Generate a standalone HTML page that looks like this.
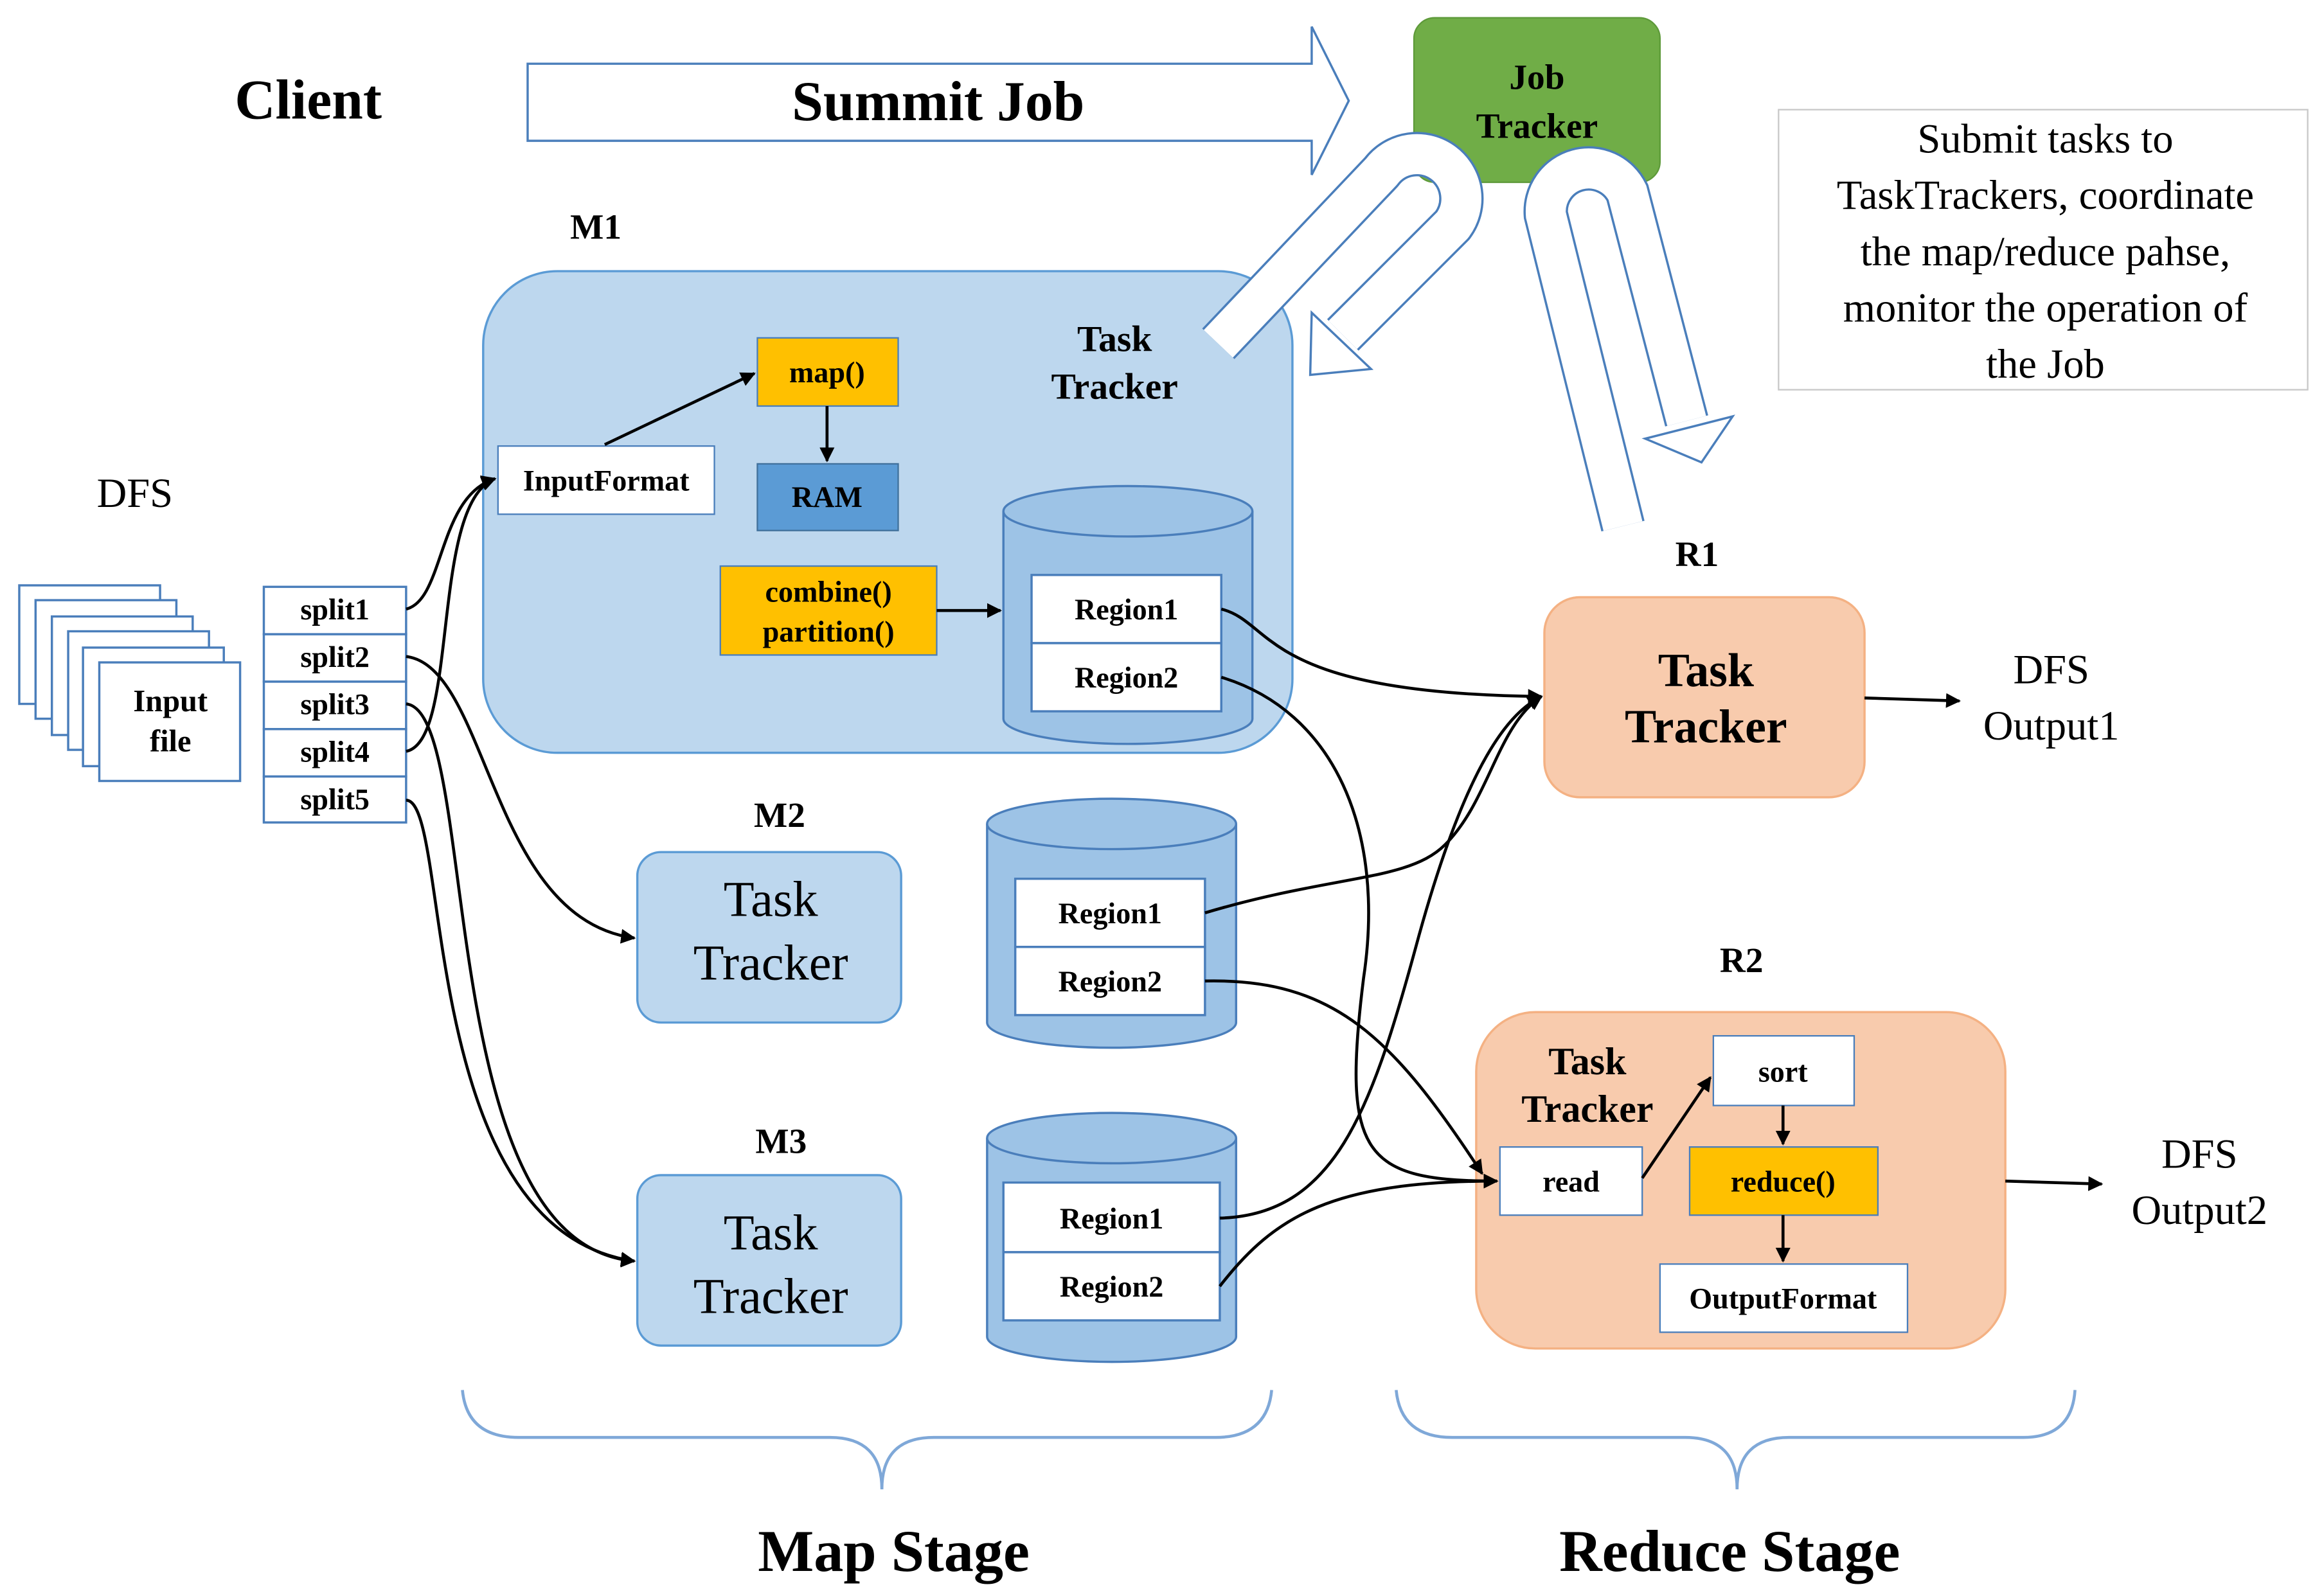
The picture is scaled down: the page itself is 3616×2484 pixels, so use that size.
<!DOCTYPE html>
<html><head><meta charset="utf-8"><style>
html,body{margin:0;padding:0;background:#fff}
svg{display:block}
text{font-family:"Liberation Serif",serif;fill:#000}
.b{font-weight:bold}
</style></head><body>
<svg width="3616" height="2484" viewBox="0 0 1568 1077" preserveAspectRatio="none" xmlns="http://www.w3.org/2000/svg">
<defs>
<marker id="ah" markerWidth="10" markerHeight="10" refX="9" refY="5" orient="auto" markerUnits="userSpaceOnUse">
<path d="M0,0 L10,5 L0,10 z" fill="#000"/></marker>
</defs>

<!-- Client & Summit Job -->
<text x="208" y="80" class="b" font-size="38" text-anchor="middle">Client</text>
<path d="M356,43 L885,43 L885,18 L910,68 L885,118 L885,95 L356,95 Z" fill="#fff" stroke="#4a7ebb" stroke-width="1.5"/>
<text x="633" y="81" class="b" font-size="38" text-anchor="middle">Summit Job</text>

<!-- Job Tracker -->
<rect x="954" y="12" width="166" height="111" rx="14" fill="#70ad47" stroke="#5e9a3a"/>
<text x="1037" y="60" class="b" font-size="24" text-anchor="middle">Job</text>
<text x="1037" y="93" class="b" font-size="24" text-anchor="middle">Tracker</text>

<!-- description -->
<rect x="1200" y="74" width="357" height="189" fill="#fff" stroke="#c8c8c8"/>
<g font-size="28" text-anchor="middle">
<text x="1380" y="103">Submit tasks to</text>
<text x="1380" y="141">TaskTrackers, coordinate</text>
<text x="1380" y="179">the map/reduce pahse,</text>
<text x="1380" y="217">monitor the operation of</text>
<text x="1380" y="255">the Job</text>
</g>

<!-- M1 -->
<text x="402" y="161" class="b" font-size="24" text-anchor="middle">M1</text>
<rect x="326" y="183" width="546" height="325" rx="50" fill="#bdd7ee" stroke="#5b9bd5" stroke-width="1.5"/>

<!-- U arrows -->
<path d="M822,232 L932,116 A30 30 0 0 1 980,152 L906,226" fill="none" stroke="#4a7ebb" stroke-width="30" stroke-linejoin="round"/>
<path d="M822,232 L932,116 A30 30 0 0 1 980,152 L906,226" fill="none" stroke="#fff" stroke-width="27" stroke-linejoin="round"/>
<polygon points="885,211 925,249 884,253" fill="#fff" stroke="#4a7ebb" stroke-width="1.5"/>
<path d="M1095,355 L1043,145 A29 29 0 0 1 1098,130 L1138,284" fill="none" stroke="#4a7ebb" stroke-width="30"/>
<path d="M1095,355 L1043,145 A29 29 0 0 1 1098,130 L1138,284" fill="none" stroke="#fff" stroke-width="27"/>
<polygon points="1110,296 1169,281 1148,312" fill="#fff" stroke="#4a7ebb" stroke-width="1.5"/>

<text x="752" y="237" class="b" font-size="25" text-anchor="middle">Task</text>
<text x="752" y="269" class="b" font-size="25" text-anchor="middle">Tracker</text>
<rect x="511" y="228" width="95" height="46" fill="#ffc000" stroke="#4a7ebb"/>
<text x="558" y="258" class="b" font-size="20" text-anchor="middle">map()</text>
<rect x="511" y="313" width="95" height="45" fill="#5b9bd5" stroke="#41719c"/>
<text x="558" y="342" class="b" font-size="20" text-anchor="middle">RAM</text>
<rect x="336" y="301" width="146" height="46" fill="#fff" stroke="#4a7ebb"/>
<text x="409" y="331" class="b" font-size="20" text-anchor="middle">InputFormat</text>
<rect x="486" y="382" width="146" height="60" fill="#ffc000" stroke="#4a7ebb"/>
<text x="559" y="406" class="b" font-size="20" text-anchor="middle">combine()</text>
<text x="559" y="433" class="b" font-size="20" text-anchor="middle">partition()</text>
<line x1="408" y1="300" x2="509" y2="252" stroke="#000" stroke-width="2" marker-end="url(#ah)"/>
<line x1="558" y1="274" x2="558" y2="311" stroke="#000" stroke-width="2" marker-end="url(#ah)"/>
<line x1="632" y1="412" x2="675" y2="412" stroke="#000" stroke-width="2" marker-end="url(#ah)"/>

<!-- cylinders -->
<g stroke="#4a7ebb" stroke-width="1.5" fill="#9dc3e6">
<path d="M677,345 L677,485 A84 17 0 0 0 845,485 L845,345"/>
<ellipse cx="761" cy="345" rx="84" ry="17"/>
<path d="M666,556 L666,690 A84 17 0 0 0 834,690 L834,556"/>
<ellipse cx="750" cy="556" rx="84" ry="17"/>
<path d="M666,768 L666,902 A84 17 0 0 0 834,902 L834,768"/>
<ellipse cx="750" cy="768" rx="84" ry="17"/>
</g>
<g fill="#fff" stroke="#4a7ebb" stroke-width="1.5">
<rect x="696" y="388" width="128" height="46"/><rect x="696" y="434" width="128" height="46"/>
<rect x="685" y="593" width="128" height="46"/><rect x="685" y="639" width="128" height="46"/>
<rect x="677" y="798" width="146" height="47"/><rect x="677" y="845" width="146" height="46"/>
</g>
<g class="b" font-size="20" text-anchor="middle">
<text x="760" y="418">Region1</text><text x="760" y="464">Region2</text>
<text x="749" y="623">Region1</text><text x="749" y="669">Region2</text>
<text x="750" y="829">Region1</text><text x="750" y="875">Region2</text>
</g>

<!-- DFS input -->
<text x="91" y="342" font-size="28" text-anchor="middle">DFS</text>
<g fill="#fff" stroke="#4a7ebb" stroke-width="1.5">
<rect x="13" y="395" width="95" height="80"/>
<rect x="24" y="405" width="95" height="80"/>
<rect x="35" y="416" width="95" height="80"/>
<rect x="46" y="426" width="95" height="80"/>
<rect x="56" y="437" width="95" height="80"/>
<rect x="67" y="447" width="95" height="80"/>
</g>
<text x="115" y="480" class="b" font-size="21" text-anchor="middle">Input</text>
<text x="115" y="507" class="b" font-size="21" text-anchor="middle">file</text>
<g fill="#fff" stroke="#4a7ebb" stroke-width="1.5">
<rect x="178" y="396" width="96" height="32"/><rect x="178" y="428" width="96" height="32"/>
<rect x="178" y="460" width="96" height="32"/><rect x="178" y="492" width="96" height="32"/>
<rect x="178" y="524" width="96" height="31"/>
</g>
<g class="b" font-size="20" text-anchor="middle">
<text x="226" y="418">split1</text><text x="226" y="450">split2</text><text x="226" y="482">split3</text>
<text x="226" y="514">split4</text><text x="226" y="546">split5</text>
</g>

<!-- M2, M3 -->
<text x="526" y="558" class="b" font-size="24" text-anchor="middle">M2</text>
<rect x="430" y="575" width="178" height="115" rx="16" fill="#bdd7ee" stroke="#5b9bd5" stroke-width="1.5"/>
<text x="520" y="618" font-size="34" text-anchor="middle">Task</text>
<text x="520" y="661" font-size="34" text-anchor="middle">Tracker</text>
<text x="527" y="778" class="b" font-size="24" text-anchor="middle">M3</text>
<rect x="430" y="793" width="178" height="115" rx="16" fill="#bdd7ee" stroke="#5b9bd5" stroke-width="1.5"/>
<text x="520" y="843" font-size="34" text-anchor="middle">Task</text>
<text x="520" y="886" font-size="34" text-anchor="middle">Tracker</text>

<!-- R1 -->
<text x="1145" y="382" class="b" font-size="24" text-anchor="middle">R1</text>
<rect x="1042" y="403" width="216" height="135" rx="24" fill="#f8cbad" stroke="#f4b183" stroke-width="1.5"/>
<text x="1151" y="463" class="b" font-size="32" text-anchor="middle">Task</text>
<text x="1151" y="501" class="b" font-size="32" text-anchor="middle">Tracker</text>
<text x="1384" y="461" font-size="28" text-anchor="middle">DFS</text>
<text x="1384" y="499" font-size="28" text-anchor="middle">Output1</text>
<line x1="1258" y1="471" x2="1322" y2="473" stroke="#000" stroke-width="2" marker-end="url(#ah)"/>

<!-- R2 -->
<text x="1175" y="656" class="b" font-size="24" text-anchor="middle">R2</text>
<rect x="996" y="683" width="357" height="227" rx="40" fill="#f8cbad" stroke="#f4b183" stroke-width="1.5"/>
<text x="1071" y="725" class="b" font-size="26" text-anchor="middle">Task</text>
<text x="1071" y="757" class="b" font-size="26" text-anchor="middle">Tracker</text>
<rect x="1156" y="699" width="95" height="47" fill="#fff" stroke="#4a7ebb"/>
<text x="1203" y="730" class="b" font-size="20" text-anchor="middle">sort</text>
<rect x="1012" y="774" width="96" height="46" fill="#fff" stroke="#4a7ebb"/>
<text x="1060" y="804" class="b" font-size="20" text-anchor="middle">read</text>
<rect x="1140" y="774" width="127" height="46" fill="#ffc000" stroke="#4a7ebb"/>
<text x="1203" y="804" class="b" font-size="20" text-anchor="middle">reduce()</text>
<rect x="1120" y="853" width="167" height="46" fill="#fff" stroke="#4a7ebb"/>
<text x="1203" y="883" class="b" font-size="20" text-anchor="middle">OutputFormat</text>
<line x1="1108" y1="795" x2="1154" y2="727" stroke="#000" stroke-width="2" marker-end="url(#ah)"/>
<line x1="1203" y1="746" x2="1203" y2="772" stroke="#000" stroke-width="2" marker-end="url(#ah)"/>
<line x1="1203" y1="820" x2="1203" y2="851" stroke="#000" stroke-width="2" marker-end="url(#ah)"/>
<text x="1484" y="788" font-size="28" text-anchor="middle">DFS</text>
<text x="1484" y="826" font-size="28" text-anchor="middle">Output2</text>
<line x1="1353" y1="797" x2="1418" y2="799" stroke="#000" stroke-width="2" marker-end="url(#ah)"/>

<!-- connectors -->
<g fill="none" stroke="#000" stroke-width="2" marker-end="url(#ah)">
<path d="M274,411 C300,405 295,335 334,323"/>
<path d="M274,507 C310,500 290,340 334,323"/>
<path d="M274,443 C330,450 330,620 428,633"/>
<path d="M274,475 C325,480 290,840 428,851"/>
<path d="M274,540 C305,540 280,830 428,851"/>
<path d="M824,411 C860,420 850,468 1040,470"/>
<path d="M824,457 C900,480 935,560 920,660 C905,780 920,797 1010,797"/>
<path d="M813,616 C900,590 950,595 975,570 C1005,540 1010,490 1040,470"/>
<path d="M813,662 C900,660 940,700 1000,792"/>
<path d="M823,822 C900,820 925,750 955,640 C990,510 1020,480 1040,470"/>
<path d="M823,868 C860,820 900,797 1010,797"/>
</g>

<!-- braces -->
<g fill="none" stroke="#7fa8d8" stroke-width="2">
<path d="M312,938 Q315,970 350,970 L560,970 Q595,970 595,1005 Q595,970 630,970 L820,970 Q855,970 858,938"/>
<path d="M942,938 Q945,970 980,970 L1137,970 Q1172,970 1172,1005 Q1172,970 1207,970 L1365,970 Q1398,970 1400,938"/>
</g>
<text x="603" y="1060" class="b" font-size="40" text-anchor="middle">Map Stage</text>
<text x="1167" y="1060" class="b" font-size="40" text-anchor="middle">Reduce Stage</text>
</svg>
</body></html>
